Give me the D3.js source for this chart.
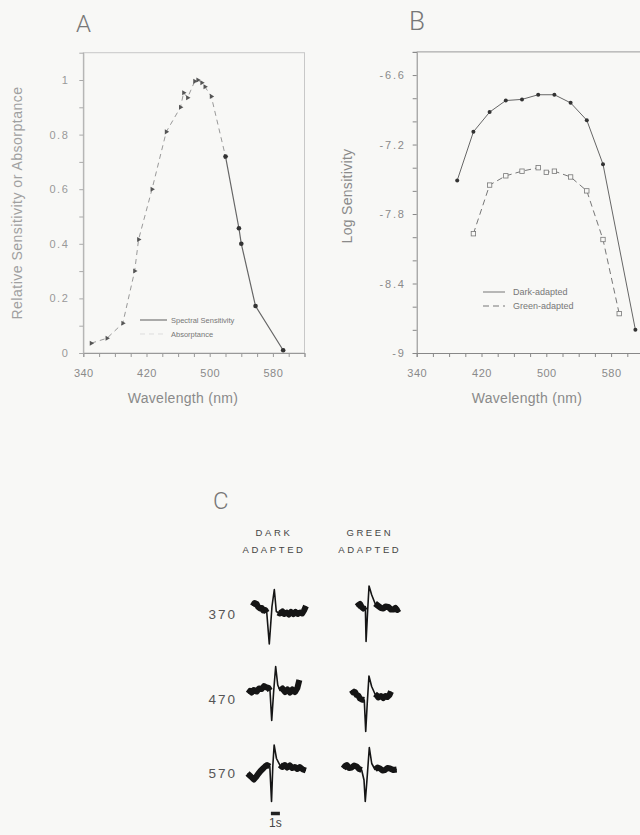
<!DOCTYPE html>
<html>
<head>
<meta charset="utf-8">
<script src="https://cdn.jsdelivr.net/npm/d3@7"></script>
<style>
  body { margin: 0; background: #f8f8f6; }
  svg { display: block; font-family: "Liberation Sans", Arial, sans-serif; }
</style>
</head>
<body>
<svg id="chart" width="640" height="835"></svg>
<script>
// ---- panel A : relative sensitivity / absorptance
const wlLabels = [340, 420, 500, 580]
const absorbWl = [350, 370, 390, 405, 410, 427, 445, 463, 467, 472, 481, 485, 490, 494, 502, 520]
const absorbVal = [0.036, 0.054, 0.109, 0.30, 0.416, 0.60, 0.81, 0.90, 0.953, 0.935, 0.995, 1.0, 0.99, 0.975, 0.94, 0.72]
const sensWl = [520, 537, 540, 558, 593]
const sensVal = [0.72, 0.457, 0.40, 0.172, 0.01]

// ---- panel B : log sensitivity
const darkWl = [390, 410, 430, 450, 470, 490, 510, 530, 550, 570, 610]
const darkLog = [-7.51, -7.09, -6.92, -6.82, -6.81, -6.77, -6.77, -6.84, -6.99, -7.37, -8.80]
const greenWl = [410, 430, 450, 470, 490, 500, 510, 530, 550, 570, 590]
const greenLog = [-7.97, -7.55, -7.47, -7.43, -7.40, -7.44, -7.43, -7.48, -7.60, -8.02, -8.66]
const logLabels = [-9, -8.4, -7.8, -7.2, -6.6]

// ---- panel C : ERG traces, [time s, amplitude]
const stimRows = ["370", "470", "570"]
const dark370 = [[0, 16], [0.2, 22], [0.44, 20], [0.6, 14], [0.81, 11], [1.0, 12], [1.18, 7], [1.4, 8], [1.56, 3], [1.84, -60], [2.14, 15], [2.4, 49], [2.62, 5], [2.8, 3], [3.03, 1], [3.3, 5], [3.5, 0], [3.78, 3], [4.0, -1], [4.25, 4], [4.51, 0], [4.75, 4], [5.0, 0], [5.26, 3], [5.5, 1], [5.7, 7], [5.92, 16]]
const dark470 = [[0, 11], [0.2, 16], [0.38, 13], [0.6, 18], [0.93, 15], [1.2, 21], [1.49, 20], [1.75, 26], [2.04, 23], [2.25, 22], [2.41, 17], [2.6, -43], [2.82, 16], [3.04, 65], [3.27, 28], [3.52, 17], [3.8, 21], [4.08, 14], [4.35, 19], [4.63, 13], [4.9, 19], [5.19, 14], [5.45, 22], [5.67, 38]]
const dark570 = [[0, -1], [0.37, -7], [0.7, -13], [0.95, -8], [1.18, -2], [1.45, 4], [1.73, 9], [1.95, 13], [2.18, 16], [2.48, 13], [2.67, -57], [2.81, 13], [2.96, 56], [3.22, 29], [3.59, 16], [3.85, 12], [4.14, 16], [4.42, 11], [4.7, 15], [4.98, 10], [5.26, 12], [5.55, 8], [5.81, 12], [6.15, 7], [6.48, 5]]
const green370 = [[0, 15], [0.2, 18], [0.37, 20], [0.55, 14], [0.74, 11], [0.96, 15], [1.04, -55], [1.22, 8], [1.37, 56], [1.67, 38], [2.04, 21], [2.4, 16], [2.7, 12], [2.96, 11], [3.2, 15], [3.52, 14], [3.8, 9], [4.07, 9], [4.3, 12], [4.5, 8], [4.74, 11]]
const green470 = [[0, 18], [0.18, 13], [0.37, 14], [0.55, 8], [0.73, 7], [0.92, 1], [1.11, -1], [1.4, -2], [1.56, -65], [1.73, -9], [1.92, 46], [2.22, 25], [2.59, 10], [2.8, 7], [2.96, 3], [3.25, 6], [3.51, 2], [3.75, 6], [3.96, 4], [4.2, 8], [4.37, 15]]
const green570 = [[0, 9], [0.2, 14], [0.38, 16], [0.65, 10], [0.93, 11], [1.2, 15], [1.49, 13], [1.75, 8], [2.04, 6], [2.3, -14], [2.44, -57], [2.6, -21], [2.89, 51], [3.16, 19], [3.52, 7], [3.8, 11], [4.08, 9], [4.35, 5], [4.63, 6], [4.9, 10], [5.19, 9], [5.55, 6], [5.93, 7]]
const darkOnset = [0.58, 0.09, 0.0]
const greenOnset = [1.49, 0.93, 0.0]
const darkFlash = [[1.6, 2.7], [2.45, 3.3], [2.55, 3.45]]
const greenFlash = [[1.0, 1.9], [1.45, 2.4], [2.15, 3.35]]

const svg = d3.select('#chart')
const lightText = '#8a8a8a'

function styleAxis(g, color) {
  g.select('.domain').attr('stroke', color)
  g.selectAll('.tick line').attr('stroke', color)
  g.selectAll('.tick text').attr('fill', lightText).style('font-size', '11px')
}

// ================= A =================
const xA = d3.scaleLinear().domain([340, 620]).range([83.3, 304.5])
const yA = d3.scaleLinear().domain([0, 1.1]).range([353, 52.7])

svg.append('rect')
  .attr('x', xA(340)).attr('y', yA(1.1))
  .attr('width', xA(620) - xA(340)).attr('height', yA(0) - yA(1.1))
  .attr('fill', 'none').attr('stroke', '#c8c8c8').attr('stroke-width', 1)

svg.append('g').attr('transform', `translate(0,${yA(0)})`)
  .call(d3.axisBottom(xA).tickValues(d3.range(340, 621, 20)).tickSize(4).tickPadding(12)
    .tickFormat(d => wlLabels.includes(d) ? d : ''))
  .call(g => styleAxis(g, '#999'))
  .selectAll('.tick text').style('letter-spacing', '0.5px')

svg.append('g').attr('transform', `translate(${xA(340)},0)`)
  .call(d3.axisLeft(yA).tickValues(d3.range(0, 11).map(i => i / 10)).tickSize(4).tickPadding(10)
    .tickFormat((d, i) => i % 2 ? '' : (d === 0 || d === 1 ? String(d) : d.toFixed(1))))
  .call(g => styleAxis(g, '#aaa'))
  .selectAll('.tick text').style('letter-spacing', '1.5px').attr('fill', '#999')

const lineA = d3.line().x(d => xA(d[0])).y(d => yA(d[1]))
const absorbPts = absorbWl.map((w, i) => [w, absorbVal[i]])
const sensPts = sensWl.map((w, i) => [w, sensVal[i]])

svg.append('path').datum(absorbPts).attr('d', lineA)
  .attr('fill', 'none').attr('stroke', '#999').attr('stroke-width', 1).attr('stroke-dasharray', '5,4')
svg.append('path').datum(sensPts).attr('d', lineA)
  .attr('fill', 'none').attr('stroke', '#666').attr('stroke-width', 1.2)

svg.selectAll('.absorb').data(absorbPts).join('path')
  .attr('d', d3.symbol(d3.symbolTriangle).size(11))
  .attr('transform', d => `translate(${xA(d[0])},${yA(d[1])}) rotate(90)`)
  .attr('fill', '#555')
svg.selectAll('.sens').data(sensPts).join('circle')
  .attr('cx', d => xA(d[0])).attr('cy', d => yA(d[1])).attr('r', 2.3).attr('fill', '#333')

// legend A
svg.append('line').attr('x1', 140).attr('x2', 167).attr('y1', 320).attr('y2', 320)
  .attr('stroke', '#777').attr('stroke-width', 1.2)
svg.append('line').attr('x1', 140).attr('x2', 167).attr('y1', 334).attr('y2', 334)
  .attr('stroke', '#ddd').attr('stroke-width', 1).attr('stroke-dasharray', '5,4')
svg.append('text').attr('x', 171).attr('y', 322.5).text('Spectral Sensitivity')
  .attr('fill', '#777').style('font-size', '7.5px')
svg.append('text').attr('x', 171).attr('y', 336.5).text('Absorptance')
  .attr('fill', '#777').style('font-size', '7.5px')

svg.append('text').attr('x', 76).attr('y', 32).text('A')
  .attr('fill', '#777').style('font-size', '24px').style('font-family', 'Roboto, sans-serif').style('font-weight', 300)
svg.append('text').attr('x', 183).attr('y', 403).attr('text-anchor', 'middle').text('Wavelength (nm)')
  .attr('fill', lightText).style('font-size', '14px').style('letter-spacing', '0.3px')
svg.append('text').attr('transform', 'translate(22,203) rotate(-90)').attr('text-anchor', 'middle')
  .text('Relative Sensitivity or Absorptance')
  .attr('fill', '#a0a0a0').style('font-size', '14px').style('letter-spacing', '0.5px')

// ================= B =================
const xB = d3.scaleLinear().domain([340, 620]).range([416.7, 643.5])
const yB = d3.scaleLinear().domain([-9, -6.4]).range([353, 51.9])

svg.append('line').attr('x1', xB(340)).attr('x2', 640).attr('y1', yB(-6.4)).attr('y2', yB(-6.4))
  .attr('stroke', '#999').attr('stroke-width', 1)

svg.append('g').attr('transform', `translate(0,${yB(-9)})`)
  .call(d3.axisBottom(xB).tickValues(d3.range(340, 621, 20)).tickSize(4).tickPadding(12)
    .tickFormat(d => wlLabels.includes(d) ? d : ''))
  .call(g => styleAxis(g, '#888'))
  .selectAll('.tick text').style('letter-spacing', '0.5px')

svg.append('g').attr('transform', `translate(${xB(340)},0)`)
  .call(d3.axisLeft(yB).tickValues(d3.range(0, 14).map(i => -9 + i * 0.2)).tickSize(4).tickPadding(7)
    .tickFormat(d => {
      const r = Math.round(d * 10) / 10
      return logLabels.includes(r) ? String(r) : ''
    }))
  .call(g => styleAxis(g, '#888'))
  .selectAll('.tick text').style('letter-spacing', '1.8px')

const lineB = d3.line().x(d => xB(d[0])).y(d => yB(d[1]))
const darkPts = darkWl.map((w, i) => [w, darkLog[i]])
const greenPts = greenWl.map((w, i) => [w, greenLog[i]])

svg.append('path').datum(darkPts).attr('d', lineB)
  .attr('fill', 'none').attr('stroke', '#666').attr('stroke-width', 1)
svg.append('path').datum(greenPts).attr('d', lineB)
  .attr('fill', 'none').attr('stroke', '#777').attr('stroke-width', 1).attr('stroke-dasharray', '6,4')

svg.selectAll('.dark').data(darkPts).join('circle')
  .attr('cx', d => xB(d[0])).attr('cy', d => yB(d[1])).attr('r', 2).attr('fill', '#333')
svg.selectAll('.green').data(greenPts).join('rect')
  .attr('x', d => xB(d[0]) - 2.2).attr('y', d => yB(d[1]) - 2.2).attr('width', 4.4).attr('height', 4.4)
  .attr('fill', '#f8f8f6').attr('stroke', '#777').attr('stroke-width', 0.8)

// legend B
svg.append('line').attr('x1', 483).attr('x2', 505).attr('y1', 292).attr('y2', 292)
  .attr('stroke', '#777').attr('stroke-width', 1)
svg.append('line').attr('x1', 483).attr('x2', 505).attr('y1', 306).attr('y2', 306)
  .attr('stroke', '#777').attr('stroke-width', 1).attr('stroke-dasharray', '6,4')
svg.append('text').attr('x', 513).attr('y', 295).text('Dark-adapted')
  .attr('fill', '#777').style('font-size', '9px')
svg.append('text').attr('x', 513).attr('y', 309).text('Green-adapted')
  .attr('fill', '#777').style('font-size', '9px')

svg.append('text').attr('x', 409).attr('y', 30).text('B')
  .attr('fill', '#777').style('font-size', '26px').style('font-family', 'Roboto, sans-serif').style('font-weight', 300)
svg.append('text').attr('x', 527).attr('y', 403).attr('text-anchor', 'middle').text('Wavelength (nm)')
  .attr('fill', lightText).style('font-size', '14px').style('letter-spacing', '0.3px')
svg.append('text').attr('transform', 'translate(352,196) rotate(-90)').attr('text-anchor', 'middle')
  .text('Log Sensitivity')
  .attr('fill', lightText).style('font-size', '14px').style('letter-spacing', '0.3px')

// ================= C =================
const colX = [247.5, 343.3]
const rowY = [614, 699, 773]
const tScale = d3.scaleLinear().domain([0, 7]).range([0, 63])
const vScale = d3.scaleLinear().domain([-80, 80]).range([40, -40])
const darkTraces = [dark370, dark470, dark570]
const greenTraces = [green370, green470, green570]

svg.append('text').attr('x', 213).attr('y', 508.5).text('C')
  .attr('fill', '#777').style('font-size', '24px').style('font-family', 'Roboto, sans-serif').style('font-weight', 300)

const headers = [['DARK', 'ADAPTED'], ['GREEN', 'ADAPTED']]
headers.forEach((h, c) => {
  h.forEach((word, k) => {
    svg.append('text').attr('x', colX[c] + 26.5).attr('y', 535.5 + k * 17)
      .attr('text-anchor', 'middle').text(word)
      .attr('fill', '#444').style('font-size', '9.5px').style('letter-spacing', '2.6px')
  })
})

function drawTrace(data, x0, y0, onset, flash) {
  const line = d3.line()
    .x(d => x0 + tScale(d[0] + onset))
    .y(d => y0 + vScale(d[1]))
  svg.append('path').datum(data).attr('d', line)
    .attr('fill', 'none').attr('stroke', '#151515').attr('stroke-width', 1.6).attr('stroke-linejoin', 'round')
  svg.append('path').datum(data).attr('d', line.defined(d => d[0] < flash[0] || d[0] > flash[1]))
    .attr('fill', 'none').attr('stroke', '#151515').attr('stroke-width', 6)
    .attr('stroke-linejoin', 'round').attr('stroke-linecap', 'butt')
}

stimRows.forEach((label, r) => {
  svg.append('text').attr('x', 237).attr('y', rowY[r] + 5).attr('text-anchor', 'end').text(label)
    .attr('fill', '#555').style('font-size', '13.5px').style('letter-spacing', '2px')
  drawTrace(darkTraces[r], colX[0], rowY[r], darkOnset[r], darkFlash[r])
  drawTrace(greenTraces[r], colX[1], rowY[r], greenOnset[r], greenFlash[r])
})

// 1 s scale bar
svg.append('line').attr('x1', colX[0] + tScale(2.6)).attr('x2', colX[0] + tScale(3.6))
  .attr('y1', 813.5).attr('y2', 813.5).attr('stroke', '#222').attr('stroke-width', 3.5)
svg.append('text').attr('x', colX[0] + tScale(3.1)).attr('y', 827).attr('text-anchor', 'middle').text('1s')
  .attr('fill', '#444').style('font-size', '12px')
</script>
</body>
</html>
